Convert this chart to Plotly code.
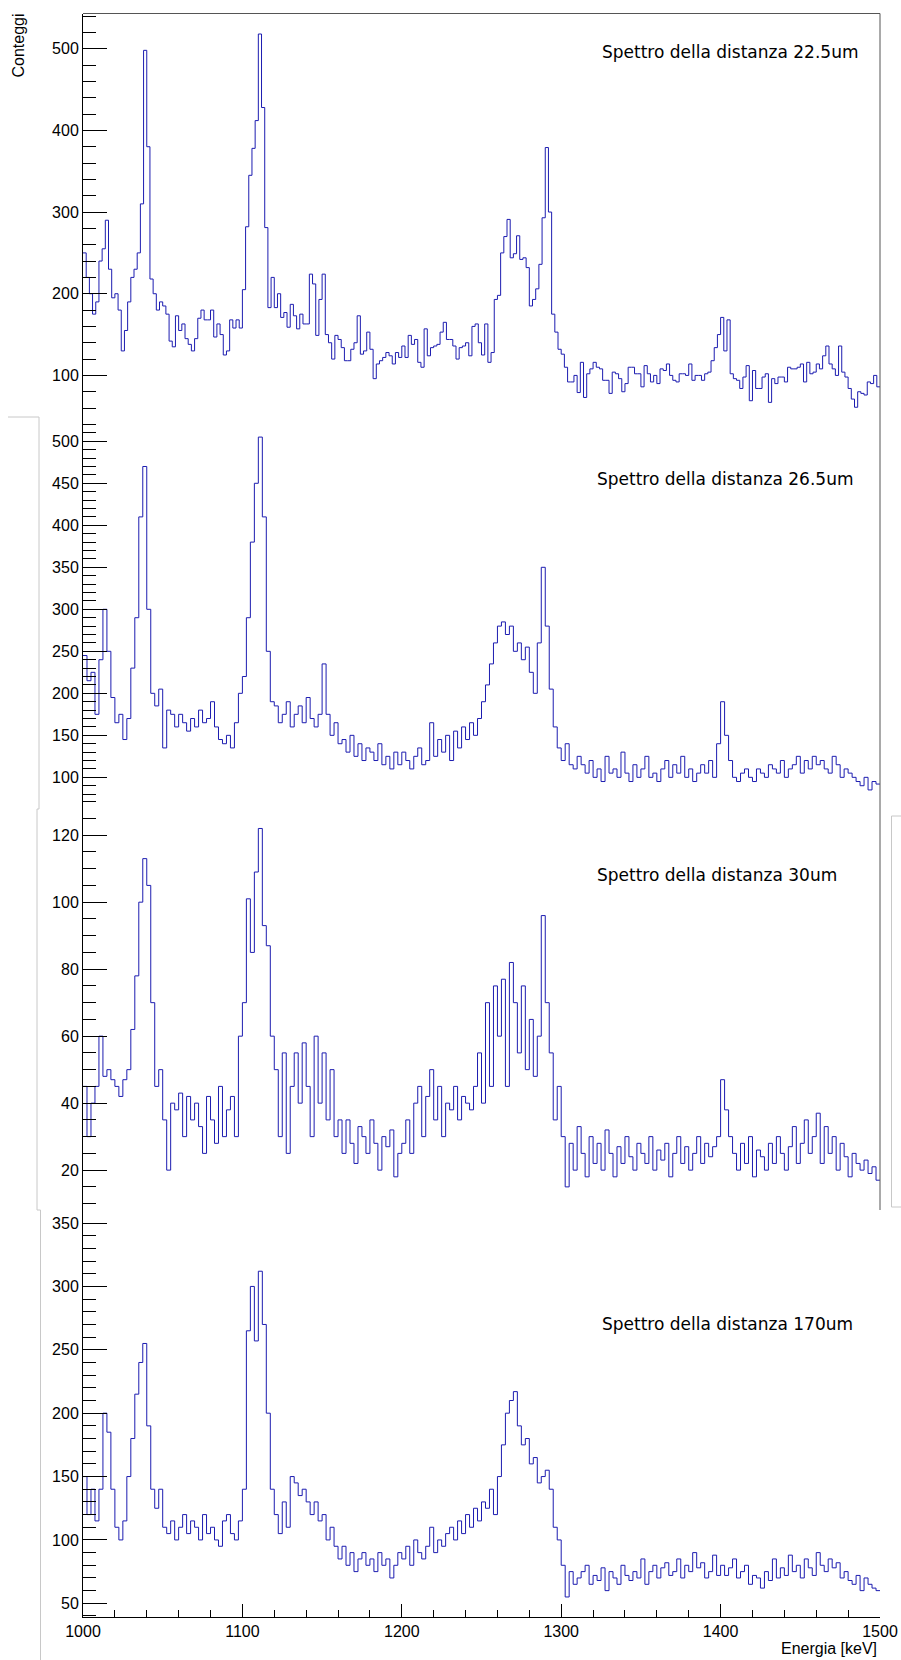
import numpy as np
import plotly.graph_objects as go

E_MIN = 1000
E_MAX = 1500

# ---- data (counts per bin) ----
P1_BIN = 2.0
P1_COUNTS = [
    250, 220, 200, 175, 190, 240, 255, 290, 230, 195,
    200, 180, 130, 155, 190, 220, 230, 250, 310, 498,
    380, 218, 200, 180, 190, 185, 175, 142, 135, 173,
    155, 163, 145, 138, 130, 145, 170, 180, 168, 168,
    180, 147, 163, 150, 125, 130, 168, 158, 168, 158,
    205, 282, 345, 378, 412, 518, 428, 281, 183, 220,
    183, 200, 171,
    177, 159, 187, 173, 157, 175, 163,
    163, 224, 212, 149, 193, 224, 150, 140, 120, 149,
    144, 134, 118, 118, 132, 140, 173, 126, 130, 153,
    132, 96, 114, 118, 122, 128, 124, 114, 128, 122,
    136, 122, 149, 138, 144, 116, 110, 157, 124, 134,
    136, 138, 153, 165, 144, 144, 136, 120, 134, 136,
    140, 124, 160, 163, 140, 125,
    163, 116, 128, 193, 198, 250,
    270, 291, 244, 249, 271, 242, 244, 232,
    185, 193, 206, 236, 293, 379, 300, 175, 153, 132,
    126, 110, 92, 92, 100, 79, 116, 73, 102, 108,
    116, 110, 108, 94, 94, 78, 104, 102, 96, 80,
    90, 110, 110, 102, 102, 86, 112, 102, 92, 100,
    90, 108, 106, 114, 100, 94, 92, 102,
    102, 100, 114, 94, 100, 100, 94, 102, 104, 118, 134, 150,
    171, 130, 168, 102, 96, 94, 84, 98, 112, 69,
    106, 84, 84, 98, 102, 67, 96, 90, 98, 98,
    92, 110, 108, 108, 110, 114, 92, 116, 102, 104,
    114, 108, 124, 136, 114, 108, 100, 136, 104, 98,
    84, 71, 61, 80, 78, 76, 92, 90, 100, 86,
]

P2_BIN = 2.5
P2_COUNTS = [
    245, 215, 225, 175, 240, 300, 250, 195, 165, 175, 145, 170, 230, 290, 410, 470,
    300, 200, 185, 205, 135, 180, 175, 160, 175, 165, 155, 170, 160, 180, 165, 170,
    190, 160, 145, 140, 150, 135, 165, 200, 220, 290, 380, 450, 505, 410, 250, 190,
    185, 165, 175, 190, 160, 175, 185, 165, 195, 170, 160, 175, 235, 175, 150, 165,
    140, 145, 130, 150, 125, 140, 120, 135, 130, 120, 140, 115, 125, 110, 130, 115,
    130, 120, 110, 125, 135, 115, 120, 165, 125, 145, 130, 150, 120, 155, 135, 160,
    145, 165, 150, 170, 190, 210, 235, 260, 280, 285, 270, 280, 250, 260, 240, 255,
    225, 200, 260, 350, 280, 205, 160, 135, 120, 140, 115, 110, 125, 115, 105, 120,
    100, 110, 95, 125, 105, 110, 100, 130, 105, 95, 115, 100, 110, 125, 100, 105,
    95, 110, 120, 100, 115, 105, 125, 100, 110, 95, 105, 115, 105, 120, 100, 140,
    190, 150, 120, 100, 95, 105, 110, 100, 95, 110, 105, 100, 115, 110, 105, 120,
    100, 110, 115, 125, 105, 120, 110, 125, 115, 120, 110, 105, 125, 115, 100, 110,
    105, 100, 95, 90, 100, 85, 95, 92,
]

P3_BIN = 2.5
P3_COUNTS = [
    45, 30, 40, 45, 60, 48, 50, 47, 45, 42, 47, 50, 62, 78, 100, 113,
    105, 70, 45, 50, 35, 20, 40, 38, 43, 30, 42, 35, 40, 33, 25, 42,
    35, 28, 45, 30, 38, 42, 30, 60, 70, 101, 85, 109, 122, 93, 87, 60,
    50, 30, 55, 25, 45, 55, 40, 58, 45, 30, 60, 40, 55, 35, 50, 30,
    35, 25, 35, 28, 22, 33, 30, 25, 35, 28, 20, 30, 27, 32, 18, 25,
    28, 35, 25, 40, 45, 30, 42, 50, 35, 45, 30, 40, 38, 45, 35, 42,
    40, 38, 45, 55, 40, 70, 45, 75, 60, 77, 45, 82, 70, 55, 75, 50,
    65, 48, 60, 96, 70, 55, 35, 45, 30, 15, 28, 20, 33, 25, 18, 30,
    22, 28, 20, 32, 25, 18, 27, 22, 30, 24, 20, 28, 25, 22, 30, 20,
    26, 23, 28, 18, 25, 30, 22, 27, 20, 25, 30, 22, 28, 24, 27, 30,
    47, 38, 30, 25, 20, 28, 22, 30, 18, 26, 24, 20, 28, 22, 30, 25,
    20, 27, 33, 22, 28, 35, 25, 30, 37, 22, 33, 25, 30, 20, 28, 24,
    18, 25, 22, 20, 23, 19, 21, 17,
]

P4_BIN = 2.5
P4_COUNTS = [
    150, 120, 140, 115, 140, 200, 185, 140, 110, 100, 115, 150, 180, 215, 240, 255,
    190, 140, 125, 140, 110, 105, 115, 100, 110, 120, 105, 115, 110, 100, 120, 105,
    110, 100, 95, 115, 120, 105, 100, 115, 140, 265, 300, 257, 312, 270, 200, 140,
    120, 105, 130, 110, 150, 145, 135, 140, 130, 120, 130, 115, 120, 100, 110, 95,
    85, 95, 80, 90, 75, 85, 90, 80, 85, 75, 90, 80, 85, 70, 80, 90,
    85, 95, 80, 100, 90, 85, 95, 110, 90, 100, 95, 105, 110, 100, 115, 105,
    120, 110, 125, 115, 130, 125, 140, 120, 150, 175, 200, 210, 217, 190, 175, 180,
    160, 165, 145, 150, 155, 140, 110, 100, 80, 55, 75, 65, 70, 75, 80, 65,
    72, 68, 78, 60, 75, 70, 65, 80, 72, 68, 75, 70, 85, 65, 75, 80,
    70, 78, 82, 72, 75, 85, 70, 80, 75, 90, 78, 82, 70, 75, 88, 72,
    80, 72, 78, 85, 70, 75, 80, 65, 72, 70, 62, 75, 68, 85, 70, 78,
    72, 88, 75, 80, 70, 85, 78, 72, 90, 80, 75, 85, 78, 82, 70, 75,
    68, 65, 72, 60, 70, 65, 62, 60,
]

TITLES = [
    "Spettro della distanza 22.5um",
    "Spettro della distanza 26.5um",
    "Spettro della distanza 30um",
    "Spettro della distanza 170um",
]
X_TITLE = "Energia [keV]"
Y_TITLE = "Conteggi"

# ---- layout helpers ----
W, H = 901, 1660


def px(x):
    return x / W


def py(y):
    return 1 - y / H


def steps(counts, bw):
    edges = E_MIN + bw * np.arange(len(counts) + 1)
    vals = list(counts) + [counts[-1]]
    return edges, vals


LINE_COLOR = "#1c1cb0"
FONT_AX = "Liberation Sans, Arial, sans-serif"
FONT_T = "DejaVu Sans, sans-serif"

fig = go.Figure()
panels = [(P1_COUNTS, P1_BIN), (P2_COUNTS, P2_BIN), (P3_COUNTS, P3_BIN), (P4_COUNTS, P4_BIN)]
for i, (c, bw) in enumerate(panels):
    xs, ys = steps(c, bw)
    fig.add_trace(go.Scatter(
        x=xs, y=ys, mode="lines", line=dict(color=LINE_COLOR, width=1, shape="hv"),
        xaxis="x", yaxis="y" if i == 0 else f"y{i+1}", hoverinfo="skip", showlegend=False,
    ))

# panel geometry (pixel rows) and value ranges
bounds = [(14, 416), (416, 798), (798, 1210), (1210, 1617)]
ranges = [(50.3, 542.5), (75.4, 530.1), (8.1, 131.1), (39.2, 360.3)]
dticks = [(100, 20), (50, 10), (20, 5), (50, 10)]

layout = dict(
    width=W, height=H, margin=dict(l=0, r=0, t=0, b=0, autoexpand=False),
    paper_bgcolor="white", plot_bgcolor="white", showlegend=False,
    xaxis=dict(
        domain=[px(83), px(880)], range=[E_MIN, E_MAX], anchor="y4", automargin=False,
        dtick=100, tick0=0, ticks="inside", ticklen=13, tickcolor="black", tickwidth=1,
        minor=dict(dtick=20, tick0=0, ticks="inside", ticklen=7, tickcolor="black", tickwidth=1),
        showline=True, linecolor="black", linewidth=1, showgrid=False, zeroline=False,
        tickfont=dict(family=FONT_AX, size=16, color="black"),
    ),
)
for i in range(4):
    top, bot = bounds[i]
    d, md = dticks[i]
    key = "yaxis" if i == 0 else f"yaxis{i+1}"
    layout[key] = dict(
        domain=[py(bot), py(top)], range=list(ranges[i]), anchor="x", automargin=False,
        dtick=d, tick0=0, ticks="inside", ticklen=24, tickcolor="black", tickwidth=1,
        minor=dict(dtick=md, tick0=0, ticks="inside", ticklen=13, tickcolor="black", tickwidth=1),
        showline=True, linecolor="black", linewidth=1, showgrid=False, zeroline=False,
        tickfont=dict(family=FONT_AX, size=16, color="black"),
    )
fig.update_layout(**layout)

# titles
title_pos = [(600, 52), (595, 479), (595, 875), (600, 1324)]
for t, (tx, ty) in zip(TITLES, title_pos):
    fig.add_annotation(text=t, x=px(tx), y=py(ty), xref="paper", yref="paper",
                       xanchor="left", yanchor="middle", showarrow=False,
                       font=dict(family=FONT_T, size=17, color="black"))
fig.add_annotation(text=Y_TITLE, x=px(18.5), y=py(46), xref="paper", yref="paper",
                   textangle=-90, xanchor="center", yanchor="middle", showarrow=False,
                   font=dict(family=FONT_AX, size=16, color="black"))
fig.add_annotation(text=X_TITLE, x=px(879), y=py(1648), xref="paper", yref="paper",
                   xanchor="right", yanchor="middle", showarrow=False,
                   font=dict(family=FONT_AX, size=16, color="black"))

# frame lines and pad borders
def seg(x0, y0, x1, y1, color, width=1):
    fig.add_shape(type="line", xref="paper", yref="paper",
                  x0=px(x0), y0=py(y0), x1=px(x1), y1=py(y1),
                  line=dict(color=color, width=width))

seg(83, 13.5, 880, 13.5, "#555555")
seg(880, 13.5, 880, 1210, "#555555")
GRAY = "#c8c8c8"
seg(8, 417, 39, 417, GRAY)
seg(39, 417, 39, 809, GRAY)
seg(37, 809, 39, 809, GRAY)
seg(37, 809, 37, 1210, GRAY)
seg(37, 1210, 40.5, 1210, GRAY)
seg(40.5, 1210, 40.5, 1660, GRAY)
seg(891.5, 816, 901, 816, GRAY)
seg(891.5, 816, 891.5, 1207, GRAY)
seg(891.5, 1207, 901, 1207, GRAY)

fig.write_html("out.html", config={"displayModeBar": False},
               post_script="document.body.style.margin='0';")
